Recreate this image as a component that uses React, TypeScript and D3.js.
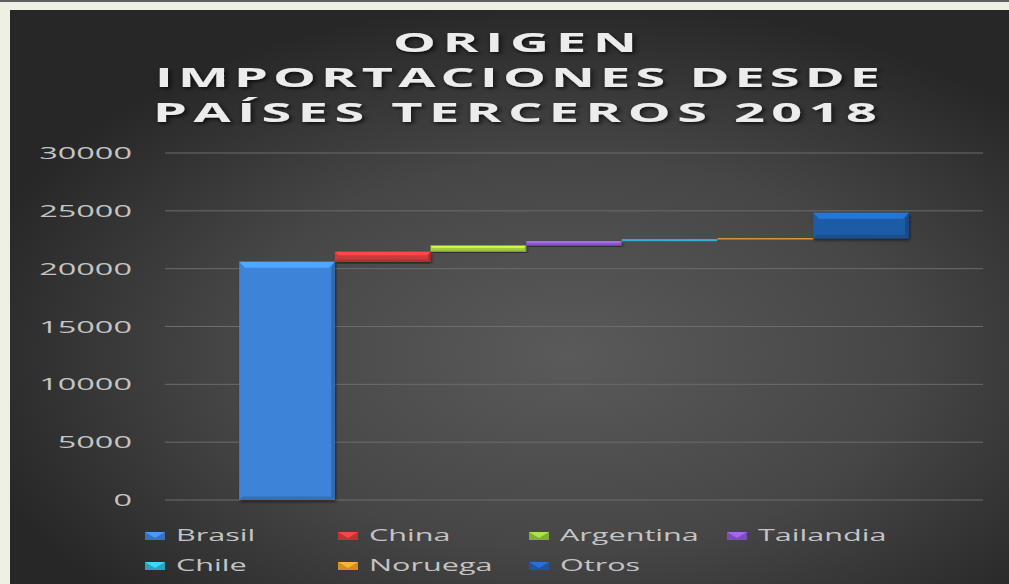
import React from "react";
import * as d3 from "d3";

const categories = ["Brasil", "China", "Argentina", "Tailandia", "Chile", "Noruega", "Otros"];
const values = [20600, 870, 520, 380, 150, 100, 2220];
const colors = ["#3c84d8", "#cc3a3a", "#a6cc3e", "#8a5ac4", "#34a4c4", "#e08c34", "#1f5ca6"];
const legendColors = ["#3e7fd2", "#d23a3a", "#8fbf3e", "#8a56c6", "#32b4d6", "#f0962e", "#2160b0"];
const yTicks = [0, 5000, 10000, 15000, 20000, 25000, 30000];
const titleLines = ["ORIGEN", "IMPORTACIONES DESDE", "PAÍSES TERCEROS 2018"];

const W = 1009;
const H = 584;

export default function App() {
  const y = d3.scaleLinear().domain([0, 30000]).range([500, 153]);
  const x = d3
    .scaleBand<string>()
    .domain(categories)
    .range([165, 983])
    .paddingInner(0)
    .paddingOuter(0.775);

  const bases: number[] = [];
  let acc = 0;
  values.forEach((v) => {
    bases.push(acc);
    acc += v;
  });

  const titleLayout = [
    { x: 393, y: 52, len: 244 },
    { x: 155, y: 87, len: 725 },
    { x: 153, y: 122, len: 724 },
  ];
  const tsx = 2.0;

  const legendCols = [145, 338, 529, 727];
  const legendRows = [532, 562];

  return (
    <div style={{ position: "absolute", left: 0, top: 0 }}>
      <svg width={W} height={H} style={{ display: "block" }}>
        <defs>
          <radialGradient id="panelGrad" cx="0.56" cy="0.6" r="0.62">
            <stop offset="0" stopColor="#5a5a5a" />
            <stop offset="0.55" stopColor="#464646" />
            <stop offset="1" stopColor="#272727" />
          </radialGradient>
          <filter id="tshadow" x="-10%" y="-30%" width="120%" height="160%">
            <feDropShadow dx="1" dy="2" stdDeviation="1.5" floodColor="#000" floodOpacity="0.7" />
          </filter>
          <filter id="bshadow" x="-10%" y="-10%" width="120%" height="130%">
            <feDropShadow dx="1" dy="2" stdDeviation="1.5" floodColor="#000" floodOpacity="0.5" />
          </filter>
        </defs>
        <rect x={0} y={0} width={W} height={H} fill="#eef0e3" />
        <rect x={0} y={0} width={W} height={2} fill="#5f5f5f" />
        <rect x={10} y={10} width={W - 10} height={H - 10} fill="url(#panelGrad)" />

        {titleLines.map((t, i) => (
          <g key={t} transform={`scale(${tsx},1)`}>
            <text
              x={titleLayout[i].x / tsx}
              y={titleLayout[i].y}
              textLength={titleLayout[i].len / tsx}
              lengthAdjust="spacing"
              fontFamily="'Open Sans', sans-serif"
              fontWeight={700}
              fontSize={27}
              fill="#ececec"
              filter="url(#tshadow)"
            >
              {t}
            </text>
          </g>
        ))}

        {yTicks.map((t) => (
          <g key={t}>
            <line x1={165} x2={983} y1={y(t)} y2={y(t)} stroke="#6c6c6c" strokeWidth={1} />
            <text
              transform={`translate(132,${y(t) + 6}) scale(2.03,1)`}
              textAnchor="end"
              fontFamily="'Open Sans', sans-serif"
              fontSize={16}
              fill="#c4c4c4"
            >
              {t}
            </text>
          </g>
        ))}

        {categories.map((c, i) => {
          const x0 = x(c)!;
          const bw = x.bandwidth();
          const yTop = y(bases[i] + values[i]);
          const yBot = y(bases[i]);
          const h = yBot - yTop;
          const b = Math.min(6, h * 0.35);
          const base = d3.color(colors[i])!;
          const light = base.brighter(0.7).formatHex();
          const dark = base.darker(0.8).formatHex();
          return (
            <g key={c} filter="url(#bshadow)">
              <rect x={x0} y={yTop} width={bw} height={h} fill={colors[i]} />
              <polygon
                points={`${x0},${yTop} ${x0 + bw},${yTop} ${x0 + bw - b},${yTop + b} ${x0 + b},${yTop + b}`}
                fill={light}
              />
              <polygon
                points={`${x0 + bw},${yTop} ${x0 + bw},${yBot} ${x0 + bw - b * 0.6},${yBot - b * 0.6} ${x0 + bw - b * 0.6},${yTop + b}`}
                fill={dark}
                opacity={0.8}
              />
              <polygon
                points={`${x0},${yBot} ${x0 + bw},${yBot} ${x0 + bw - b * 0.6},${yBot - b * 0.6} ${x0 + b * 0.6},${yBot - b * 0.6}`}
                fill={dark}
                opacity={0.6}
              />
            </g>
          );
        })}

        {categories.map((c, i) => {
          const col = i < 4 ? i : i - 4;
          const row = i < 4 ? 0 : 1;
          const mx = legendCols[col];
          const my = legendRows[row];
          const base = d3.color(legendColors[i])!;
          return (
            <g key={"lg" + c}>
              <rect x={mx} y={my} width={20} height={8} fill={base.darker(0.3).formatHex()} />
              <polygon
                points={`${mx},${my} ${mx + 20},${my} ${mx + 10},${my + 6}`}
                fill={base.brighter(0.5).formatHex()}
              />
              <text
                transform={`translate(${mx + 31},${my + 9}) scale(1.8,1)`}
                fontFamily="'Open Sans', sans-serif"
                fontSize={17}
                fill="#c4c4c4"
              >
                {c}
              </text>
            </g>
          );
        })}
      </svg>
    </div>
  );
}
